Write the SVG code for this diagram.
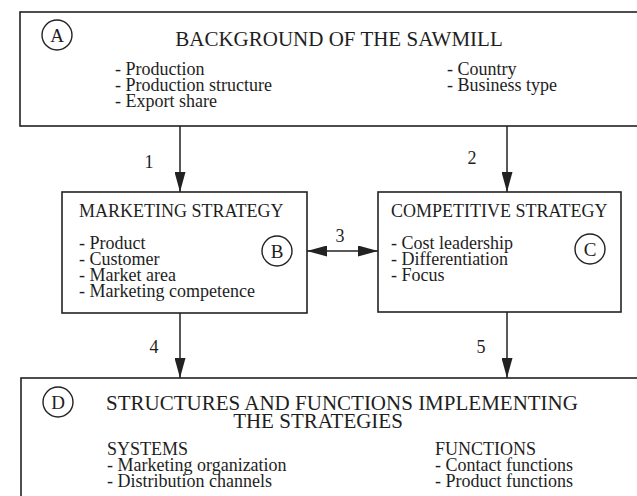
<svg xmlns="http://www.w3.org/2000/svg" width="637" height="496" viewBox="0 0 637 496">
  <style>
    .box { fill: none; stroke: #222; stroke-width: 1.6; }
    .tag { fill: none; stroke: #222; stroke-width: 1.4; }
    .wire { fill: none; stroke: #222; stroke-width: 1.5; }
    text { font-family: "Liberation Serif", "Times New Roman", serif; fill: #1e1e1e; }
    .big { font-size: 21px; }
    .mid { font-size: 18px; }
    .tagtxt { font-size: 19px; text-anchor: middle; }
  </style>
  <defs>
    <marker id="head" viewBox="0 0 20 11" refX="20" refY="5.5" markerWidth="20" markerHeight="11" markerUnits="userSpaceOnUse" orient="auto-start-reverse">
      <path d="M0,0 L20,5.5 L0,11 z" fill="#222"/>
    </marker>
  </defs>
  <rect width="637" height="496" fill="#fff"/>

  <!-- A: background of the sawmill -->
  <g id="node-a">
    <rect class="box" x="20" y="12" width="640" height="114"/>
    <circle class="tag" cx="57" cy="35" r="15"/>
    <text class="tagtxt" x="57" y="41.5">A</text>
    <text class="big" x="339" y="46" text-anchor="middle">BACKGROUND OF THE SAWMILL</text>
    <text class="mid" x="115" y="75">- Production</text>
    <text class="mid" x="115" y="91">- Production structure</text>
    <text class="mid" x="115" y="107">- Export share</text>
    <text class="mid" x="447" y="75">- Country</text>
    <text class="mid" x="447" y="91">- Business type</text>
  </g>

  <!-- B: marketing strategy -->
  <g id="node-b">
    <rect class="box" x="62" y="192" width="245" height="121"/>
    <text class="mid" x="79" y="217">MARKETING STRATEGY</text>
    <text class="mid" x="79" y="249">- Product</text>
    <text class="mid" x="79" y="265">- Customer</text>
    <text class="mid" x="79" y="281">- Market area</text>
    <text class="mid" x="79" y="297">- Marketing competence</text>
    <circle class="tag" cx="277" cy="251" r="15"/>
    <text class="tagtxt" x="277" y="257.5">B</text>
  </g>

  <!-- C: competitive strategy -->
  <g id="node-c">
    <rect class="box" x="378" y="192" width="243" height="120"/>
    <text class="mid" x="391" y="217">COMPETITIVE STRATEGY</text>
    <text class="mid" x="391" y="249">- Cost leadership</text>
    <text class="mid" x="391" y="265">- Differentiation</text>
    <text class="mid" x="391" y="281">- Focus</text>
    <circle class="tag" cx="590" cy="249" r="15"/>
    <text class="tagtxt" x="590" y="255.5">C</text>
  </g>

  <!-- D: structures and functions -->
  <g id="node-d">
    <rect class="box" x="21" y="378" width="640" height="140"/>
    <circle class="tag" cx="58" cy="402" r="15"/>
    <text class="tagtxt" x="58" y="408.5">D</text>
    <text class="big" x="106" y="410">STRUCTURES AND FUNCTIONS IMPLEMENTING</text>
    <text class="big" x="318" y="428" text-anchor="middle">THE STRATEGIES</text>
    <text class="mid" x="107" y="455">SYSTEMS</text>
    <text class="mid" x="107" y="471">- Marketing organization</text>
    <text class="mid" x="107" y="487">- Distribution channels</text>
    <text class="mid" x="435" y="455">FUNCTIONS</text>
    <text class="mid" x="435" y="471">- Contact functions</text>
    <text class="mid" x="435" y="487">- Product functions</text>
  </g>

  <!-- numbered connectors -->
  <g id="connectors">
    <line class="wire" x1="180" y1="126" x2="180" y2="192" marker-end="url(#head)"/>
    <line class="wire" x1="507" y1="126" x2="507" y2="192" marker-end="url(#head)"/>
    <line class="wire" x1="307" y1="251" x2="378" y2="251" marker-start="url(#head)" marker-end="url(#head)"/>
    <line class="wire" x1="180" y1="313" x2="180" y2="378" marker-end="url(#head)"/>
    <line class="wire" x1="507" y1="312" x2="507" y2="378" marker-end="url(#head)"/>
    <text class="mid" x="149" y="168" text-anchor="middle">1</text>
    <text class="mid" x="472" y="164" text-anchor="middle">2</text>
    <text class="mid" x="340" y="242" text-anchor="middle">3</text>
    <text class="mid" x="154" y="353" text-anchor="middle">4</text>
    <text class="mid" x="481" y="353" text-anchor="middle">5</text>
  </g>
</svg>
